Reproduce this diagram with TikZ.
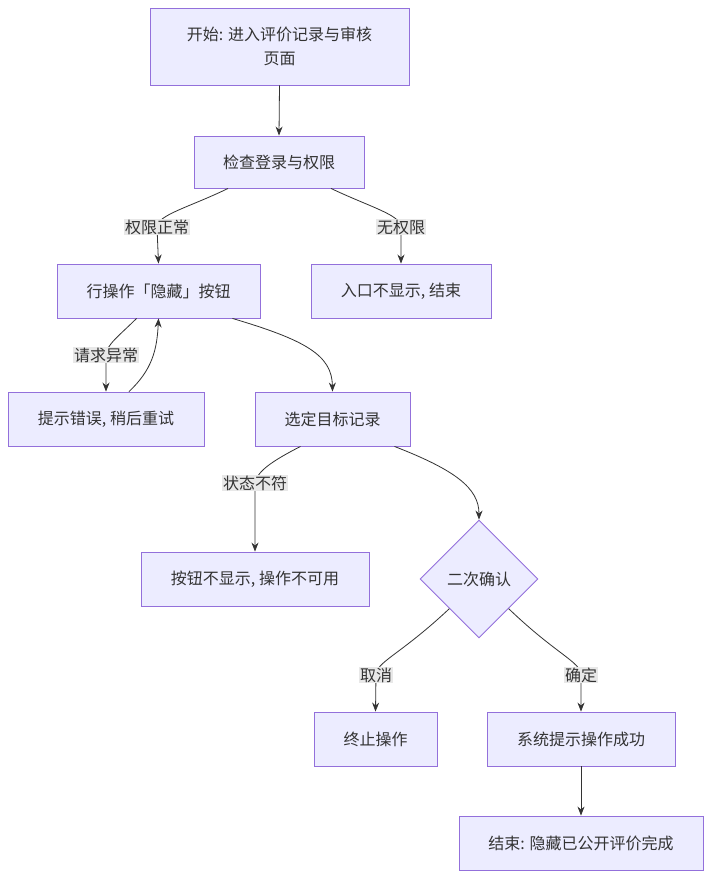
\documentclass[tikz,border=0pt]{standalone}
\usepackage{fontspec}
\setmainfont{Noto Sans CJK SC}
\usetikzlibrary{shapes.geometric,arrows.meta}
\definecolor{nodefill}{HTML}{ECECFF}
\definecolor{nodeline}{HTML}{9370DB}
\definecolor{txt}{HTML}{333333}
\definecolor{lblbg}{HTML}{E8E8E8}
\begin{document}
\begin{tikzpicture}[x=1pt,y=-1pt,
  box/.style={draw=nodeline,fill=nodefill,line width=0.9pt,text=txt,inner sep=0pt,font=\fontsize{16}{24}\selectfont,align=center},
  dia/.style={diamond,aspect=1,draw=nodeline,fill=nodefill,line width=0.9pt,text=txt,inner sep=0pt,minimum width=118,minimum height=118,font=\fontsize{16}{20}\selectfont},
  lbl/.style={fill=lblbg,text=txt,inner sep=1pt,font=\fontsize{16}{20}\selectfont},
  arr/.style={draw=txt,line width=0.8pt,-{Stealth[length=9pt,width=7pt]}}]
\useasboundingbox (0,0) rectangle (712,878);
\fill[white] (0,0) rectangle (712,878);
% nodes
\node[box,minimum width=259,minimum height=77] (start) at (279.5,46.5) {开始: 进入评价记录与审核\\页面};
\node[box,minimum width=170,minimum height=52] (check) at (279,162) {检查登录与权限};
\node[box,minimum width=203,minimum height=54] (op) at (158.5,291) {行操作「隐藏」按钮};
\node[box,minimum width=180,minimum height=54] (noperm) at (401,291) {入口不显示, 结束};
\node[box,minimum width=196,minimum height=54] (err) at (106,419) {提示错误, 稍后重试};
\node[box,minimum width=155,minimum height=54] (sel) at (332.5,419) {选定目标记录};
\node[box,minimum width=228,minimum height=54] (na) at (255,579) {按钮不显示, 操作不可用};
\node[dia] (conf) at (479,579) {二次确认};
\node[box,minimum width=123,minimum height=54] (term) at (375.5,739) {终止操作};
\node[box,minimum width=188,minimum height=54] (succ) at (581,739) {系统提示操作成功};
\node[box,minimum width=244,minimum height=54] (fin) at (581,843) {结束: 隐藏已公开评价完成};
% label coordinates
\coordinate (l1) at (157,227);
\coordinate (l2) at (401,227);
\coordinate (l3) at (106,355);
\coordinate (l4) at (255,483);
\coordinate (l5) at (376,675);
\coordinate (l6) at (581,675);
% edges
\draw[arr] (start.south) -- (check.north);
\draw[arr] ([xshift=-51]check.south) .. controls (190,207) and (157,215) .. (l1) -- (op.north);
\draw[arr] ([xshift=52]check.south) .. controls (370,207) and (401,215) .. (l2) -- (noperm.north);
\draw[arr] ([xshift=-22]op.south) .. controls (120,335) and (106,345) .. (l3) -- (err.north);
\draw[arr] ([xshift=23]err.north) .. controls (152,370) and (157,350) .. (op.south);
\draw[arr] ([xshift=74]op.south) .. controls (305,340) and (332,355) .. (sel.north);
\draw[arr] ([xshift=-32]sel.south) .. controls (270,462) and (257,472) .. (l4) -- (na.north);
\draw[arr] ([xshift=62]sel.south) .. controls (455,470) and (479,488) .. (conf.north);
\draw[arr] (conf.south west) .. controls (400,655) and (376,662) .. (l5) -- (term.north);
\draw[arr] (conf.south east) .. controls (557,655) and (581,662) .. (l6) -- (succ.north);
\draw[arr] (succ.south) -- (fin.north);
% labels
\node[lbl] (t1) at (l1) {权限正常};
\node[lbl] (t2) at (l2) {无权限};
\node[lbl] (t3) at (l3) {请求异常};
\node[lbl] (t4) at (l4) {状态不符};
\node[lbl] (t5) at (l5) {取消};
\node[lbl] (t6) at (l6) {确定};
\end{tikzpicture}
\end{document}
